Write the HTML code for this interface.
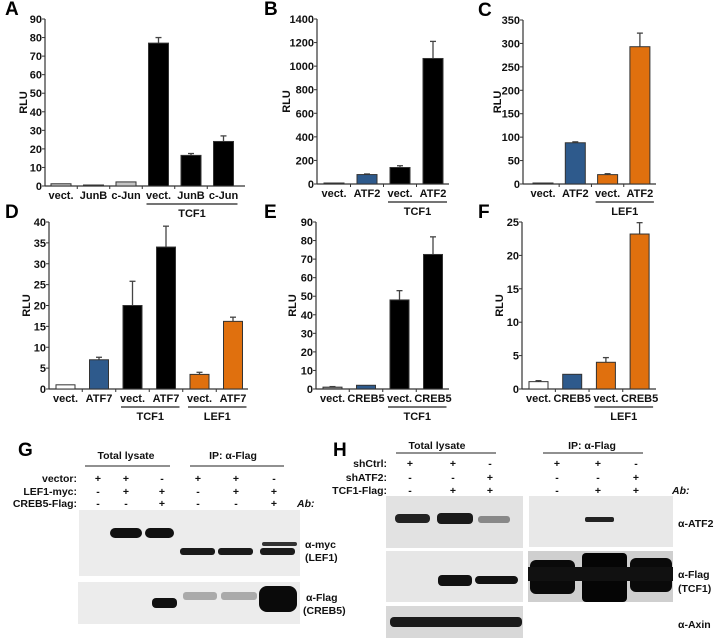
<!DOCTYPE html>
<html><head><meta charset="utf-8"><style>
html,body{margin:0;padding:0;background:#fff;}
svg{display:block;font-family:"Liberation Sans",Arial,sans-serif;}
.t{font-size:11px;font-weight:bold;fill:#111;}
.pl{font-size:19px;font-weight:bold;fill:#000;}
.s{font-size:10.5px;font-weight:bold;fill:#111;}
</style></head><body>
<svg id="fig" width="718" height="642" viewBox="0 0 718 642">
<rect width="718" height="642" fill="#fff"/>
<g id="charts"></g>
<g id="blots">
 <text class="pl" x="18" y="456">G</text>
 <text class="s" x="126" y="459" text-anchor="middle">Total lysate</text>
 <line x1="85" y1="466" x2="170" y2="466" stroke="#222" stroke-width="1"/>
 <text class="s" x="233" y="459" text-anchor="middle">IP: α-Flag</text>
 <line x1="190" y1="466" x2="284" y2="466" stroke="#222" stroke-width="1"/>
 <text class="s" x="77" y="482" text-anchor="end">vector:</text>
 <text class="s" x="77" y="495" text-anchor="end">LEF1-myc:</text>
 <text class="s" x="77" y="507" text-anchor="end">CREB5-Flag:</text>
 <text class="s" x="297" y="507" font-style="italic">Ab:</text>
 <g id="gsigns"></g>
 <rect x="79" y="510" width="221" height="66" fill="#ececec"/>
 <rect x="110" y="528" width="32" height="10" rx="5" fill="#111"/>
 <rect x="145" y="528" width="29" height="10" rx="5" fill="#111"/>
 <rect x="180" y="548" width="35" height="7" rx="3" fill="#1a1a1a"/>
 <rect x="218" y="548" width="35" height="7" rx="3" fill="#1a1a1a"/>
 <rect x="260" y="548" width="35" height="7" rx="3" fill="#1a1a1a"/>
 <rect x="262" y="542" width="35" height="4" rx="2" fill="#333"/>
 <text class="s" x="305" y="548">α-myc</text>
 <text class="s" x="305" y="561">(LEF1)</text>
 <rect x="78" y="582" width="222" height="42" fill="#ececec"/>
 <rect x="152" y="598" width="25" height="10" rx="4" fill="#111"/>
 <rect x="183" y="592" width="34" height="8" rx="3" fill="#aaa"/>
 <rect x="221" y="592" width="36" height="8" rx="3" fill="#aaa"/>
 <rect x="259" y="586" width="38" height="26" rx="8" fill="#0a0a0a"/>
 <text class="s" x="306" y="601">α-Flag</text>
 <text class="s" x="303" y="614">(CREB5)</text>

 <text class="pl" x="333" y="456">H</text>
 <text class="s" x="437" y="449" text-anchor="middle">Total lysate</text>
 <line x1="396" y1="453" x2="496" y2="453" stroke="#222" stroke-width="1"/>
 <text class="s" x="592" y="449" text-anchor="middle">IP: α-Flag</text>
 <line x1="543" y1="453" x2="643" y2="453" stroke="#222" stroke-width="1"/>
 <text class="s" x="387" y="467" text-anchor="end">shCtrl:</text>
 <text class="s" x="387" y="481" text-anchor="end">shATF2:</text>
 <text class="s" x="387" y="494" text-anchor="end">TCF1-Flag:</text>
 <text class="s" x="672" y="494" font-style="italic">Ab:</text>
 <g id="hsigns"></g>
 <rect x="386" y="496" width="137" height="52" fill="#e2e2e2"/>
 <rect x="395" y="514" width="35" height="9" rx="4" fill="#222"/>
 <rect x="437" y="513" width="36" height="11" rx="4" fill="#1a1a1a"/>
 <rect x="478" y="516" width="32" height="7" rx="3" fill="#888"/>
 <rect x="529" y="496" width="144" height="51" fill="#e8e8e8"/>
 <rect x="585" y="517" width="29" height="5" rx="2" fill="#222"/>
 <text class="s" x="678" y="527">α-ATF2</text>
 <rect x="386" y="551" width="137" height="51" fill="#e6e6e6"/>
 <rect x="438" y="575" width="34" height="11" rx="4" fill="#111"/>
 <rect x="475" y="576" width="43" height="8" rx="4" fill="#111"/>
 <rect x="528" y="551" width="145" height="51" fill="#cfcfcf"/>
 <rect x="530" y="560" width="45" height="34" rx="6" fill="#0a0a0a"/>
 <rect x="582" y="553" width="45" height="49" rx="4" fill="#050505"/>
 <rect x="630" y="558" width="42" height="34" rx="6" fill="#0a0a0a"/>
 <rect x="528" y="567" width="145" height="14" fill="#111"/>
 <text class="s" x="678" y="578">α-Flag</text>
 <text class="s" x="678" y="592">(TCF1)</text>
 <rect x="386" y="606" width="137" height="32" fill="#d8d8d8"/>
 <rect x="390" y="617" width="132" height="10" rx="4" fill="#1a1a1a"/>
 <text class="s" x="678" y="628">α-Axin</text>
</g>
</svg>
<script>
// ---- Chart data ----
const catsA = ["vect.","JunB","c-Jun","vect.","JunB","c-Jun"];
const valsA = [1.2,0.3,2.2,77,16.5,24];
const errsA = [0,0,0,3,1,3];
const catsB = ["vect.","ATF2","vect.","ATF2"];
const valsB = [5,80,140,1065];
const errsB = [0,5,15,145];
const catsC = ["vect.","ATF2","vect.","ATF2"];
const valsC = [1,88,20,293];
const errsC = [0,2,2,29];
const catsD = ["vect.","ATF7","vect.","ATF7","vect.","ATF7"];
const valsD = [1,7,20,34,3.5,16.2];
const errsD = [0,0.6,5.8,5,0.5,1];
const catsE = ["vect.","CREB5","vect.","CREB5"];
const valsE = [1,2,48,72.5];
const errsE = [0.3,0,5,9.5];
const catsF = ["vect.","CREB5","vect.","CREB5"];
const valsF = [1.1,2.2,4,23.2];
const errsF = [0.15,0,0.7,1.7];
const ticksA = [0,10,20,30,40,50,60,70,80,90];
const ticksB = [0,200,400,600,800,1000,1200,1400];
const ticksC = [0,50,100,150,200,250,300,350];
const ticksD = [0,5,10,15,20,25,30,35,40];
const ticksE = [0,10,20,30,40,50,60,70,80,90];
const ticksF = [0,5,10,15,20,25];

const NS="http://www.w3.org/2000/svg";
const G=document.getElementById('charts');
function mk(tag,at,parent){const e=document.createElementNS(NS,tag);for(const k in at)e.setAttribute(k,at[k]);(parent||G).appendChild(e);return e;}
const W="#fff",GR="#c4c4c4",NV="#2e5a8c",OR="#e0700e",BK="#000";

function chart(o){
  const g=mk('g',{});
  
  
  const ymax=o.ticks[o.ticks.length-1];
  const y=v=>o.y0-(v/ymax)*(o.y0-o.ytop);
  const x=i=>o.bx+i*o.pitch;
  const lab=mk('text',{x:o.lx,y:o.ytop-4,class:'pl'},g);lab.textContent=o.id.toUpperCase();
  
  
  mk('line',{x1:o.ax,y1:o.ytop,x2:o.ax,y2:o.y0,stroke:'#333','stroke-width':1.2},g);
  mk('line',{x1:o.ax,y1:o.y0,x2:o.axEnd,y2:o.y0,stroke:'#333','stroke-width':1.2},g);
  o.ticks.forEach(t=>{
    mk('line',{x1:o.ax-3,y1:y(t),x2:o.ax,y2:y(t),stroke:'#333'},g);
    const tx=mk('text',{x:o.ax-3,y:y(t)+4,class:'t','text-anchor':'end'},g);tx.textContent=t;
    
    
  });
  const rl=mk('text',{x:0,y:0,class:'t',transform:`translate(${o.rx},${(o.y0+o.ytop)/2}) rotate(-90)`,'text-anchor':'middle'},g);rl.textContent='RLU';
  
  
  o.vals.forEach((v,i)=>{
    const cx=x(i)+o.bw/2;
    if(i>0) mk('line',{x1:x(i)-(o.pitch-o.bw)/2,y1:o.y0,x2:x(i)-(o.pitch-o.bw)/2,y2:o.y0+3,stroke:'#333'},g);
    if(o.errs[i]>0){
      mk('line',{x1:cx,y1:y(v),x2:cx,y2:y(v+o.errs[i]),stroke:'#444','stroke-width':1.3},g);
      mk('line',{x1:cx-3,y1:y(v+o.errs[i]),x2:cx+3,y2:y(v+o.errs[i]),stroke:'#444','stroke-width':1.3},g);
    }
    const h=Math.max(1,o.y0-y(v));
    const b=mk('rect',{x:x(i),y:o.y0-h,width:o.bw,height:h,fill:o.cols[i],stroke:'#333','stroke-width':1},g);
    
    
    const c=mk('text',{x:cx,y:o.y0+13,class:'t','text-anchor':'middle'},g);c.textContent=o.cats[i];
    
    
  });
  o.groups.forEach(gr=>{
    const x1=x(gr[0])-2,x2=x(gr[1])+o.bw+4;
    mk('line',{x1:x1,y1:o.y0+18,x2:x2,y2:o.y0+18,stroke:'#222','stroke-width':1.3},g);
    const gt=mk('text',{x:(x1+x2)/2,y:o.y0+31,class:'t','text-anchor':'middle'},g);gt.textContent=gr[2];
    
    
  });
}
chart({id:'a',lx:5,ax:45,axEnd:245,ytop:19,y0:186,ticks:ticksA,vals:valsA,errs:errsA,cats:catsA,bx:51,pitch:32.5,bw:20,rx:27,cols:[GR,GR,GR,BK,BK,BK],groups:[[3,5,'TCF1']]});
chart({id:'b',lx:264,ax:317,axEnd:449,ytop:19,y0:184,ticks:ticksB,vals:valsB,errs:errsB,cats:catsB,bx:324,pitch:33,bw:20,rx:290,cols:[W,NV,BK,BK],groups:[[2,3,'TCF1']]});
chart({id:'c',lx:478,ax:523,axEnd:656,ytop:20,y0:184,ticks:ticksC,vals:valsC,errs:errsC,cats:catsC,bx:533,pitch:32.3,bw:20,rx:501,cols:[W,NV,OR,OR],groups:[[2,3,'LEF1']]});
chart({id:'d',lx:5,ax:49,axEnd:248,ytop:222,y0:389,ticks:ticksD,vals:valsD,errs:errsD,cats:catsD,bx:56,pitch:33.5,bw:19,rx:30,cols:[W,NV,BK,BK,OR,OR],groups:[[2,3,'TCF1'],[4,5,'LEF1']]});
chart({id:'e',lx:264,ax:316,axEnd:449,ytop:222,y0:389,ticks:ticksE,vals:valsE,errs:errsE,cats:catsE,bx:323,pitch:33.5,bw:19,rx:296,cols:['#999',NV,BK,BK],groups:[[2,3,'TCF1']]});
chart({id:'f',lx:478,ax:522,axEnd:656,ytop:222,y0:389,ticks:ticksF,vals:valsF,errs:errsF,cats:catsF,bx:529,pitch:33.7,bw:19,rx:503,cols:[W,NV,OR,OR],groups:[[2,3,'LEF1']]});

// plus/minus signs for blots
const gCols=[98,126,162,198,236,274], gRows=[479,492,504];
const gSigns=["++-++-","-++-++","--+--+"];
const hCols=[410,453,490,557,598,636], hRows=[464,478,491];
const hSigns=["++-++-","--+--+","-++-++"];
function signs(id,cols,rows,sg){
  const p=document.getElementById(id);
  sg.forEach((r,ri)=>{[...r].forEach((c,ci)=>{
    const t=mk('text',{x:cols[ci],y:rows[ri]+3,class:'s','text-anchor':'middle'},p);t.textContent=c;
    
    
  });});
}
signs('gsigns',gCols,gRows,gSigns);
signs('hsigns',hCols,hRows,hSigns);
</script>
</body></html>
